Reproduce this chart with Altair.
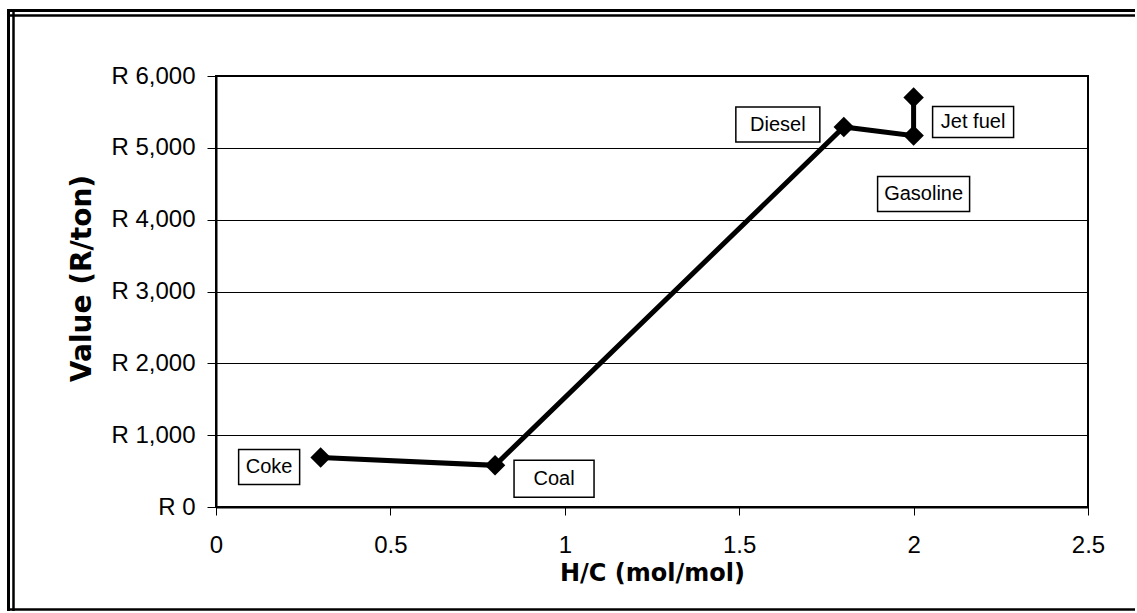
import altair as alt
import pandas as pd

# Fuel value versus hydrogen-to-carbon ratio
fuels = ["Coke", "Coal", "Diesel", "Gasoline", "Jet fuel"]
h_to_c = [0.3, 0.8, 1.8, 2.0, 2.0]
value_r_per_ton = [690, 580, 5290, 5170, 5700]

x_ticks = [0, 0.5, 1, 1.5, 2, 2.5]
y_ticks = [0, 1000, 2000, 3000, 4000, 5000, 6000]

df = pd.DataFrame({
    "fuel": fuels,
    "hc": h_to_c,
    "value": value_r_per_ton,
    "order": list(range(len(fuels))),
})

# Callout box edges around each point, in pixels: (left, right, top, bottom)
callouts = {
    "Coke": (-82, -21, -8, 27),
    "Coal": (19, 99, -5, 32),
    "Diesel": (-108, -24, -20, 15),
    "Gasoline": (-36, 56, 41, 76),
    "Jet fuel": (19, 100, 9, 40),
}

LABEL_FONT = "Liberation Sans"
TITLE_FONT = "DejaVu Sans"

x_enc = alt.X(
    "hc:Q",
    scale=alt.Scale(domain=[0, 2.5], nice=False, zero=False),
    axis=alt.Axis(
        values=x_ticks,
        labelExpr="format(datum.value, '~g')",
        grid=False,
        tickSize=8,
        tickColor="black",
        labelPadding=18,
        labelFont=LABEL_FONT,
        labelFontSize=24,
        labelColor="black",
        labelFlush=False,
        labelOverlap=False,
        domainColor="black",
        domainWidth=2,
        title="H/C (mol/mol)",
        titleFont=TITLE_FONT,
        titleFontSize=24,
        titleFontWeight="bold",
        titleColor="black",
        titlePadding=4,
    ),
)
y_enc = alt.Y(
    "value:Q",
    scale=alt.Scale(domain=[0, 6000], nice=False),
    axis=alt.Axis(
        values=y_ticks,
        labelExpr="'R ' + format(datum.value, ',')",
        grid=True,
        gridColor="black",
        gridWidth=1,
        tickSize=9,
        tickColor="black",
        labelPadding=12,
        labelFont=LABEL_FONT,
        labelFontSize=24,
        labelColor="black",
        labelFlush=False,
        labelOverlap=False,
        domainColor="black",
        domainWidth=2,
        title="Value (R/ton)",
        titleFont=TITLE_FONT,
        titleFontSize=28,
        titleFontWeight="bold",
        titleColor="black",
        titlePadding=14,
        titleY=202,
    ),
)

base = alt.Chart(df).encode(x=x_enc, y=y_enc)

line = base.mark_line(color="black", strokeWidth=5).encode(order="order:Q")
points = base.mark_point(shape="diamond", filled=True, color="black", size=420, opacity=1)

layers = [line, points]
for name, (left, right, top, bottom) in callouts.items():
    one = base.transform_filter(alt.datum.fuel == name)
    box = one.mark_rect(
        fill="white", stroke="black", strokeWidth=1.5,
        xOffset=left, x2Offset=right, yOffset=top, y2Offset=bottom,
    ).encode(x2=alt.X2("hc:Q"), y2=alt.Y2("value:Q"))
    text = one.mark_text(
        dx=(left + right) / 2, dy=(top + bottom) / 2,
        align="center", baseline="middle",
        font=LABEL_FONT, fontSize=20, color="black",
    ).encode(text="fuel:N")
    layers += [box, text]

# Double frame around the whole figure (open on the right)
frame_data = alt.Data(values=[{"k": 0}])
frame = []
for xpos, w in [(-207.5, 3), (-202.5, 2.5)]:
    frame.append(alt.Chart(frame_data).mark_rule(color="black", strokeWidth=w).encode(
        x=alt.value(xpos), y=alt.value(-67), y2=alt.value(540)))
for ypos, w in [(-65.5, 3), (-60.5, 2.5)]:
    frame.append(alt.Chart(frame_data).mark_rule(color="black", strokeWidth=w).encode(
        x=alt.value(-209), x2=alt.value(919), y=alt.value(ypos)))
frame.append(alt.Chart(frame_data).mark_rule(color="black", strokeWidth=2.5).encode(
    x=alt.value(-209), x2=alt.value(919), y=alt.value(533.5)))

chart = alt.layer(*layers, *frame).properties(
    width=872,
    height=431,
    padding={"left": 216, "top": 76, "right": 47, "bottom": 104},
    autosize="none",
    background="white",
).configure_view(stroke="black", strokeWidth=2)

chart.save("out.html", embed_options={"renderer": "svg", "actions": False})
